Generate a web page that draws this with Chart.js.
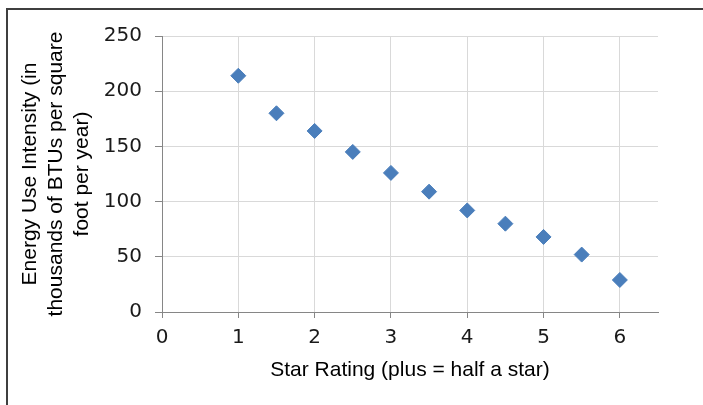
<!DOCTYPE html>
<html lang="en">
<head>
  <meta charset="UTF-8">
  <title>Energy Use Intensity by Star Rating</title>
  <style>
    body {
      margin: 0;
      background: #fff;
    }

    #chart-container {
      position: relative;
      width: 703px;
      height: 405px;
      overflow: hidden;
    }

    /* frame of the original chart, cut off on the right and bottom */
    #frame {
      position: absolute;
      left: 6px;
      top: 8px;
      width: 800px;
      height: 500px;
      border-top: 2px solid #3f3f3f;
      border-left: 2px solid #3f3f3f;
      pointer-events: none;
    }
  </style>
</head>
<body>
  <div id="chart-container">
    <canvas id="scatterChart"></canvas>
    <div id="frame"></div>
  </div>

  <script src="https://cdn.jsdelivr.net/npm/chart.js"></script>
  <script>
    // star ratings (a "plus" counts as half a star)
    const starRatings = [1, 1.5, 2, 2.5, 3, 3.5, 4, 4.5, 5, 5.5, 6];
    // energy use intensity, thousands of BTUs per square foot per year
    const energyUse = [214, 180, 164, 145, 126, 109, 92, 80, 68, 52, 29];

    const xTicks = [0, 1, 2, 3, 4, 5, 6];
    const yTicks = [0, 50, 100, 150, 200, 250];

    const points = starRatings.map((x, i) => ({ x: x, y: energyUse[i] }));

    const tickFont = { family: "'DejaVu Sans', sans-serif", size: 20 };
    const titleFont = { family: "'Liberation Sans', Arial, sans-serif", size: 21 };

    new Chart(document.getElementById('scatterChart'), {
      type: 'scatter',
      data: {
        datasets: [{
          label: 'EUI',
          data: points,
          pointStyle: 'rectRot',
          pointRadius: 7.5,
          pointHoverRadius: 7.5,
          borderWidth: 1,
          backgroundColor: '#4A7EBB',
          borderColor: '#4A7EBB'
        }]
      },
      options: {
        responsive: true,
        maintainAspectRatio: false,
        animation: false,
        layout: {
          padding: { left: 0, right: 45, top: 36, bottom: 0 }
        },
        plugins: {
          legend: { display: false },
          tooltip: { enabled: false }
        },
        scales: {
          x: {
            type: 'linear',
            min: 0,
            max: 6.5,
            afterBuildTicks: (scale) => {
              scale.ticks = xTicks.map(v => ({ value: v }));
            },
            afterFit: (scale) => { scale.height = 93; },
            ticks: {
              font: tickFont,
              color: '#1a1a1a',
              padding: 8,
              maxRotation: 0
            },
            grid: {
              color: '#d9d9d9',
              tickColor: '#868686',
              tickLength: 6
            },
            border: { color: '#868686', width: 1 },
            title: {
              display: true,
              text: 'Star Rating (plus = half a star)',
              font: titleFont,
              color: '#000',
              padding: { top: 0, bottom: 22 }
            }
          },
          y: {
            min: 0,
            max: 250,
            afterBuildTicks: (scale) => {
              scale.ticks = yTicks.map(v => ({ value: v }));
            },
            afterFit: (scale) => { scale.width = 162; },
            ticks: {
              font: tickFont,
              color: '#1a1a1a',
              padding: 13
            },
            grid: {
              color: '#d9d9d9',
              tickColor: '#868686',
              tickLength: 7
            },
            border: { color: '#868686', width: 1 },
            title: {
              display: true,
              text: ['Energy Use Intensity (in', 'thousands of BTUs per square', 'foot per year)'],
              font: { ...titleFont, lineHeight: 1.24 },
              color: '#000',
              padding: { top: 17, bottom: 0 }
            }
          }
        }
      }
    });
  </script>
</body>
</html>
